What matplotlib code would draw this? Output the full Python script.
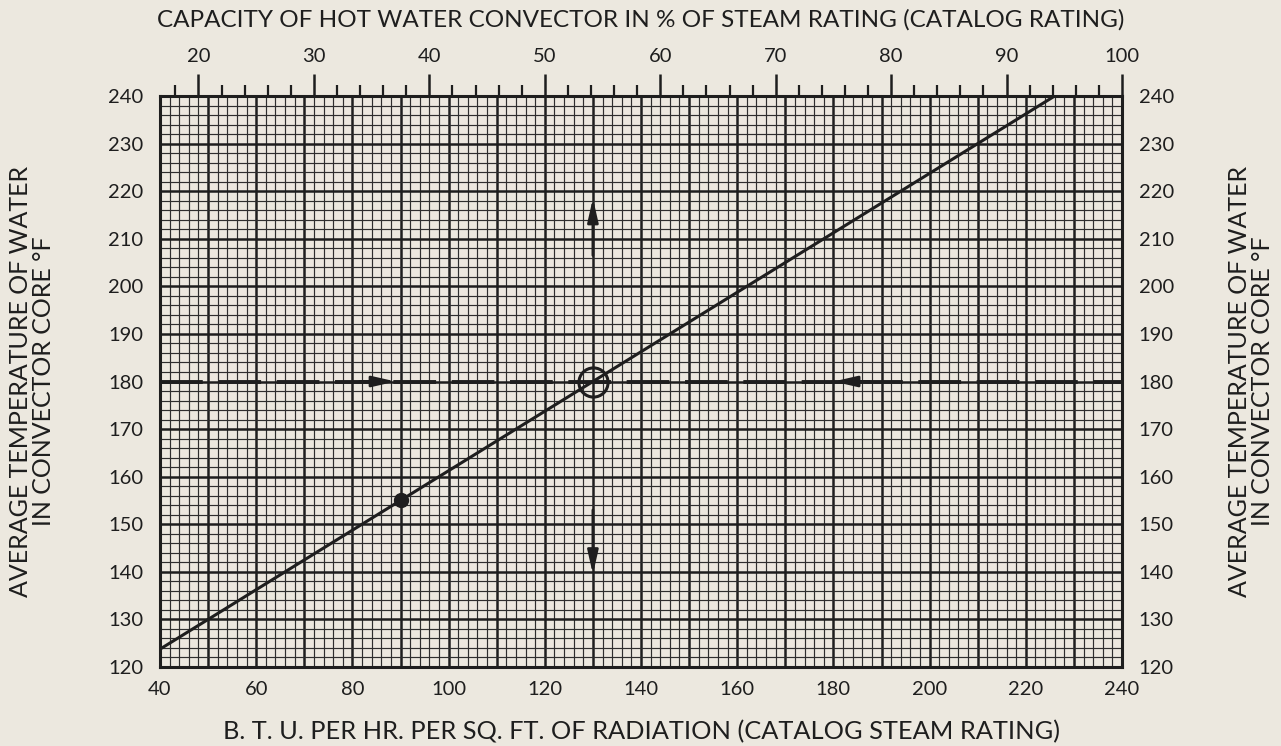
import numpy as np
import matplotlib.pyplot as plt
from matplotlib.ticker import MultipleLocator, FuncFormatter

# data
line_btu = [40, 226]           # B.T.U. per hr per sq ft
line_temp = [123.75, 240]      # average water temperature, deg F
example_btu = 90
example_temp = 155
design_btu = 130
design_temp = 180

paper = "#ece8df"
ink = "#1e1e1e"
plt.rcParams["font.family"] = ["Lato", "DejaVu Sans"]

fig = plt.figure(figsize=(12.81, 7.46), dpi=100, facecolor=paper)
ax = fig.add_axes([0.1249, 0.1059, 0.751, 0.7654], facecolor=paper)

ax.set_xlim(40, 240)
ax.set_ylim(120, 240)

# graph paper grid
ax.xaxis.set_major_locator(MultipleLocator(10))
ax.xaxis.set_minor_locator(MultipleLocator(2))
ax.yaxis.set_major_locator(MultipleLocator(10))
ax.yaxis.set_minor_locator(MultipleLocator(2))
ax.xaxis.set_major_formatter(FuncFormatter(lambda v, p: f"{v:.0f}" if v % 20 == 0 else ""))
ax.grid(which="major", color=ink, lw=1.8)
ax.grid(which="minor", color="#2e2e2e", lw=0.85)
ax.set_axisbelow(True)
for s in ax.spines.values():
    s.set_linewidth(2.2)
    s.set_color(ink)

ax.tick_params(which="both", length=0, labelsize=14.5, labelcolor=ink, pad=10)
ax.tick_params(axis="y", labelright=True, pad=12)

# chart line and markers
ax.plot(line_btu, line_temp, color=ink, lw=2.2, zorder=4)
ax.plot(example_btu, example_temp, "o", ms=10, color=ink, zorder=5)
ax.plot(design_btu, design_temp, "o", ms=21, mfc="none", mec=ink, mew=2.2, zorder=5)

# dashed guide line with arrows
ax.plot([40, 240], [design_temp, design_temp], color=ink, lw=2.8, dashes=(11, 4), zorder=3)
arrow = dict(arrowstyle="-|>,head_length=1.4,head_width=0.32", color=ink, lw=2, shrinkA=0, shrinkB=0)
ax.annotate("", xy=(89, design_temp), xytext=(81.5, design_temp), arrowprops=arrow, zorder=6)
ax.annotate("", xy=(180, design_temp), xytext=(187.5, design_temp), arrowprops=arrow, zorder=6)
ax.annotate("", xy=(design_btu, 218.5), xytext=(design_btu, 206.5), arrowprops=arrow, zorder=6)
ax.annotate("", xy=(design_btu, 139.5), xytext=(design_btu, 153), arrowprops=arrow, zorder=6)

# top scale: capacity in % of steam rating
top = ax.secondary_xaxis("top", functions=(lambda b: b / 2.4, lambda p: p * 2.4))
top.xaxis.set_major_locator(MultipleLocator(10))
top.xaxis.set_minor_locator(MultipleLocator(2))
top.tick_params(which="major", direction="out", length=16, width=1.8, color=ink,
                labelsize=14.5, labelcolor=ink, pad=6)
top.tick_params(which="minor", direction="out", length=8, width=1.6, color=ink)
top.spines["top"].set_visible(False)

ylab = "AVERAGE TEMPERATURE OF WATER\nIN CONVECTOR CORE °F"
ax.set_ylabel(ylab, fontsize=18, color=ink, labelpad=38, linespacing=1.0)
right = ax.secondary_yaxis("right")
right.tick_params(length=0, labelright=False)
right.spines["right"].set_visible(False)
right.set_ylabel(ylab, fontsize=18, color=ink, labelpad=76, linespacing=1.0, rotation=90)

ax.set_xlabel("B. T. U. PER HR. PER SQ. FT. OF RADIATION (CATALOG STEAM RATING)",
              fontsize=18.3, color=ink, labelpad=16)
fig.text(0.5, 0.973, "CAPACITY OF HOT WATER CONVECTOR IN % OF STEAM RATING (CATALOG RATING)",
         ha="center", va="center", fontsize=17.5, color=ink)

fig.savefig("out.png", dpi=100, facecolor=paper)
